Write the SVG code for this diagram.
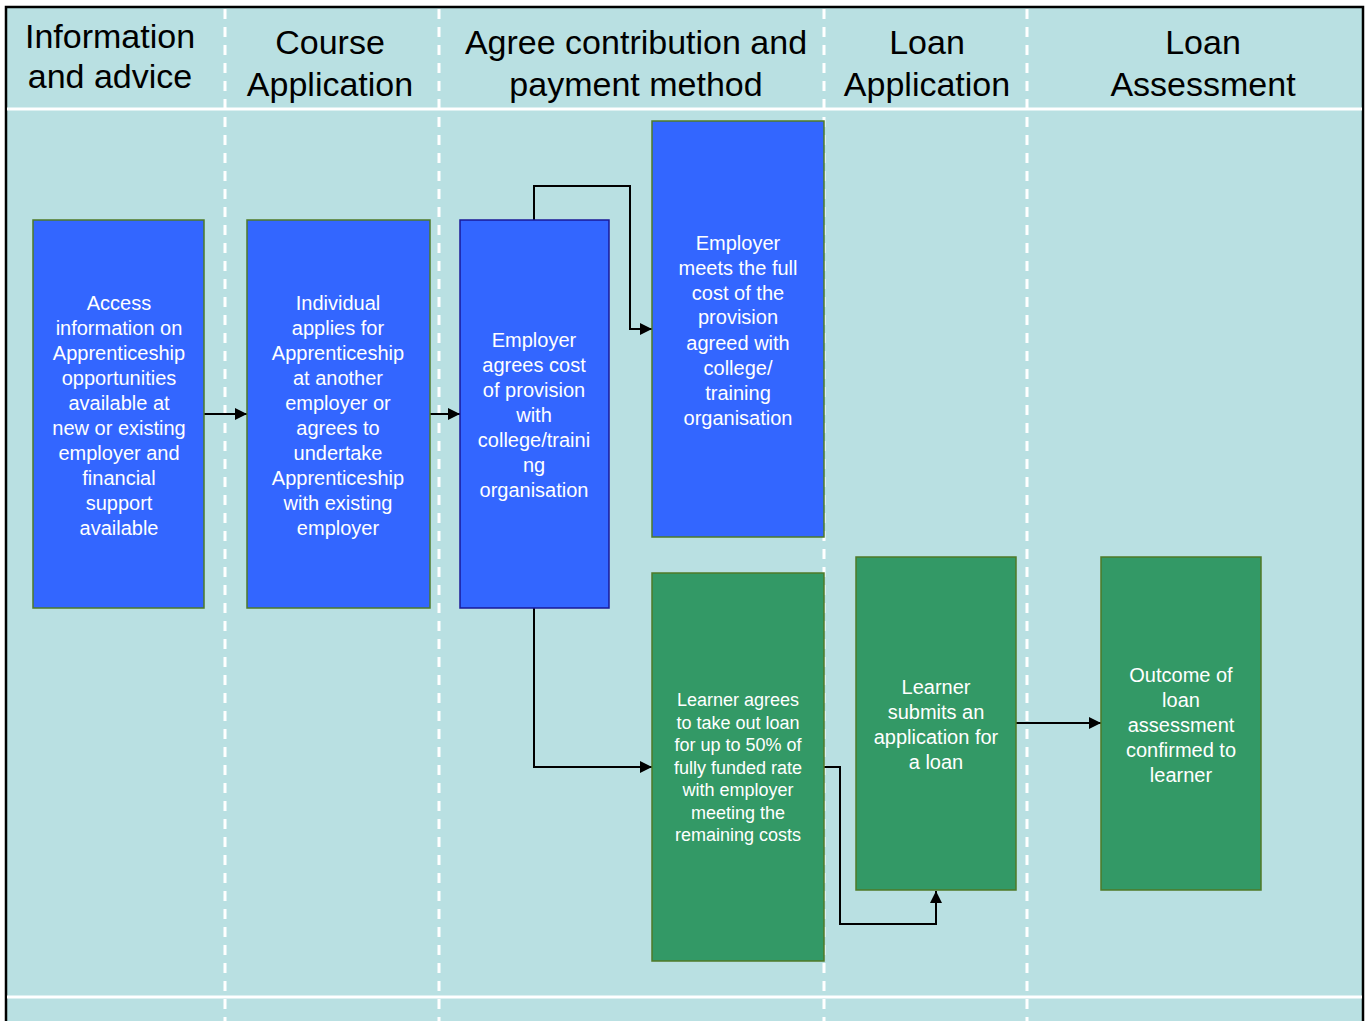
<svg xmlns="http://www.w3.org/2000/svg" width="1367" height="1021" viewBox="0 0 1367 1021">
<defs>
<style>
.hdr{font-family:"Liberation Sans",Arial,sans-serif;font-size:34px;fill:#000;text-anchor:middle}
.t{font-family:"Liberation Sans",Arial,sans-serif;font-size:20px;fill:#fff;text-anchor:middle}
.ts{font-family:"Liberation Sans",Arial,sans-serif;font-size:18px;fill:#fff;text-anchor:middle}
.blue{fill:#3366FF;stroke:#4F7A28;stroke-width:1.5}
.blue2{fill:#3366FF;stroke:#1a1a99;stroke-width:1.5}
.green{fill:#339966;stroke:#4F7A28;stroke-width:1.5}
.lane{stroke:#fff;stroke-width:3;stroke-dasharray:10 8;fill:none}
.conn{stroke:#000;stroke-width:2;fill:none;marker-end:url(#ah)}
</style>
<marker id="ah" viewBox="0 0 10 10" refX="10" refY="5" markerWidth="6" markerHeight="6" markerUnits="strokeWidth" orient="auto">
<path d="M0,0 L10,5 L0,10 z" fill="#000"/>
</marker>
</defs>
<rect x="0" y="0" width="1367" height="1021" fill="#fff"/>
<rect x="6" y="7" width="1357" height="1014" fill="#B9E0E2"/>
<g id="frame">
<path d="M6,1021 V7 H1363 V1021" fill="none" stroke="#000" stroke-width="2.5"/>
<line x1="7" y1="109" x2="1362" y2="109" stroke="#fff" stroke-width="3"/>
<line x1="7" y1="997" x2="1362" y2="997" stroke="#fff" stroke-width="3"/>
<line class="lane" x1="225" y1="9" x2="225" y2="1021"/>
<line class="lane" x1="439" y1="9" x2="439" y2="1021"/>
<line class="lane" x1="824" y1="9" x2="824" y2="1021"/>
<line class="lane" x1="1027" y1="9" x2="1027" y2="1021"/>
</g>
<g id="headers">
<text class="hdr" x="110" y="48">Information</text>
<text class="hdr" x="110" y="88">and advice</text>
<text class="hdr" x="330" y="54">Course</text>
<text class="hdr" x="330" y="96">Application</text>
<text class="hdr" x="636" y="54">Agree contribution and</text>
<text class="hdr" x="636" y="96">payment method</text>
<text class="hdr" x="927" y="54">Loan</text>
<text class="hdr" x="927" y="96">Application</text>
<text class="hdr" x="1203" y="54">Loan</text>
<text class="hdr" x="1203" y="96">Assessment</text>
</g>
<g id="connectors">
<line class="conn" x1="204" y1="414" x2="247" y2="414"/>
<line class="conn" x1="430" y1="414" x2="460" y2="414"/>
<polyline class="conn" points="534,220 534,186 630,186 630,329 652,329"/>
<polyline class="conn" points="534,608 534,767 652,767"/>
<polyline class="conn" points="824,767 840,767 840,924 936,924 936,891"/>
<line class="conn" x1="1016" y1="723" x2="1101" y2="723"/>
</g>
<g id="n1">
<rect class="blue" x="33" y="220" width="171" height="388"/>
<text class="t" x="119" y="310">Access</text>
<text class="t" x="119" y="335">information on</text>
<text class="t" x="119" y="360">Apprenticeship</text>
<text class="t" x="119" y="385">opportunities</text>
<text class="t" x="119" y="410">available at</text>
<text class="t" x="119" y="435">new or existing</text>
<text class="t" x="119" y="460">employer and</text>
<text class="t" x="119" y="485">financial</text>
<text class="t" x="119" y="510">support</text>
<text class="t" x="119" y="535">available</text>
</g>
<g id="n2">
<rect class="blue" x="247" y="220" width="183" height="388"/>
<text class="t" x="338" y="310">Individual</text>
<text class="t" x="338" y="335">applies for</text>
<text class="t" x="338" y="360">Apprenticeship</text>
<text class="t" x="338" y="385">at another</text>
<text class="t" x="338" y="410">employer or</text>
<text class="t" x="338" y="435">agrees to</text>
<text class="t" x="338" y="460">undertake</text>
<text class="t" x="338" y="485">Apprenticeship</text>
<text class="t" x="338" y="510">with existing</text>
<text class="t" x="338" y="535">employer</text>
</g>
<g id="n3">
<rect class="blue2" x="460" y="220" width="149" height="388"/>
<text class="t" x="534" y="347">Employer</text>
<text class="t" x="534" y="372">agrees cost</text>
<text class="t" x="534" y="397">of provision</text>
<text class="t" x="534" y="422">with</text>
<text class="t" x="534" y="447">college/traini</text>
<text class="t" x="534" y="472">ng</text>
<text class="t" x="534" y="497">organisation</text>
</g>
<g id="n4">
<rect class="blue" x="652" y="121" width="172" height="416"/>
<text class="t" x="738" y="250">Employer</text>
<text class="t" x="738" y="275">meets the full</text>
<text class="t" x="738" y="300">cost of the</text>
<text class="t" x="738" y="324">provision</text>
<text class="t" x="738" y="350">agreed with</text>
<text class="t" x="738" y="375">college/</text>
<text class="t" x="738" y="400">training</text>
<text class="t" x="738" y="425">organisation</text>
</g>
<g id="n5">
<rect class="green" x="652" y="573" width="172" height="388"/>
<text class="ts" x="738" y="706">Learner agrees</text>
<text class="ts" x="738" y="728.5">to take out loan</text>
<text class="ts" x="738" y="751">for up to 50% of</text>
<text class="ts" x="738" y="773.5">fully funded rate</text>
<text class="ts" x="738" y="796">with employer</text>
<text class="ts" x="738" y="818.5">meeting the</text>
<text class="ts" x="738" y="841">remaining costs</text>
</g>
<g id="n6">
<rect class="green" x="856" y="557" width="160" height="333"/>
<text class="t" x="936" y="694">Learner</text>
<text class="t" x="936" y="719">submits an</text>
<text class="t" x="936" y="744">application for</text>
<text class="t" x="936" y="769">a loan</text>
</g>
<g id="n7">
<rect class="green" x="1101" y="557" width="160" height="333"/>
<text class="t" x="1181" y="682">Outcome of</text>
<text class="t" x="1181" y="707">loan</text>
<text class="t" x="1181" y="732">assessment</text>
<text class="t" x="1181" y="757">confirmed to</text>
<text class="t" x="1181" y="782">learner</text>
</g>
</svg>
